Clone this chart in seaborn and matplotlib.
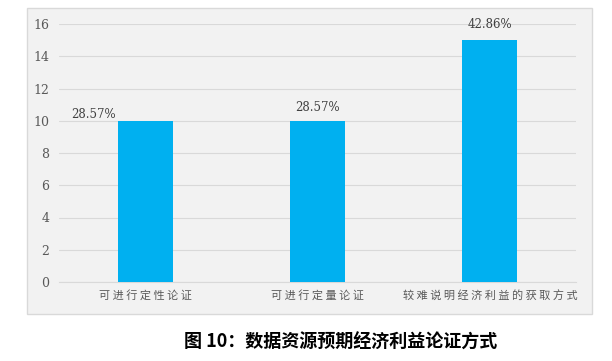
import matplotlib
matplotlib.use("Agg")
import matplotlib.pyplot as plt
import seaborn as sns
import pandas as pd
from matplotlib.patches import Rectangle

categories = ["可进行定性论证", "可进行定量论证", "较难说明经济利益的获取方式"]
values = [10, 10, 15]
pct_labels = ["28.57%", "28.57%", "42.86%"]
yticks = [0, 2, 4, 6, 8, 10, 12, 14, 16]
title = "图 10：数据资源预期经济利益论证方式"

sns.set_theme(style="white")
plt.rcParams['font.family'] = ['Noto Sans CJK SC', 'DejaVu Sans']

df = pd.DataFrame({"cat": categories, "val": values})

fig = plt.figure(figsize=(6.12, 3.61), dpi=100)
fig.patch.set_facecolor("white")

W, H = 612, 361
panel = Rectangle((27 / W, 1 - 314 / H), 565 / W, 306 / H, transform=fig.transFigure,
                  facecolor="#f2f2f2", edgecolor="#d9d9d9", linewidth=1.0, zorder=0)
fig.add_artist(panel)

ax = fig.add_axes([59 / W, 1 - 282 / H, 517 / W, 258 / H])
ax.set_facecolor("#f2f2f2")
ax.set_zorder(1)

sns.barplot(data=df, x="cat", y="val", color="#00B0F0", width=0.32, saturation=1,
            linewidth=0, edgecolor="none", ax=ax, zorder=3)

ax.set_ylim(0, 16)
ax.set_yticks(yticks)
ax.set_yticklabels([str(t) for t in yticks], family="DejaVu Serif", fontsize=9, color="#595959")
ax.yaxis.grid(True, color="#d9d9d9", linewidth=0.8)
ax.set_axisbelow(True)
for s in ["top", "right", "left"]:
    ax.spines[s].set_visible(False)
ax.spines["bottom"].set_color("#d9d9d9")
ax.spines["bottom"].set_linewidth(0.8)
ax.tick_params(axis="both", length=0)
ax.tick_params(axis="y", pad=7)
ax.tick_params(axis="x", pad=6)
ax.set_xticks(range(len(categories)))
ax.set_xticklabels([" ".join(c) for c in categories], fontsize=8, color="#595959")
ax.set_xlabel("")
ax.set_ylabel("")

# value labels
offsets = [(0, 0), (0, 9.5), (0, 11.5)]
for i, (v, lab) in enumerate(zip(values, pct_labels)):
    bar = ax.patches[i]
    if i == 0:
        ax.annotate(lab, xy=(bar.get_x(), v), xytext=(-1, 0), textcoords="offset points",
                    ha="right", va="bottom", family="DejaVu Serif", fontsize=8.5, color="#404040")
    else:
        ax.annotate(lab, xy=(bar.get_x() + bar.get_width() / 2, v), xytext=offsets[i],
                    textcoords="offset points", ha="center", va="center",
                    family="DejaVu Serif", fontsize=8.5, color="#404040")

fig.text(341 / W, 1 - 342 / H, title, ha="center", va="center", fontsize=13,
         fontweight="bold", color="black")

fig.savefig("out.png", dpi=100)
